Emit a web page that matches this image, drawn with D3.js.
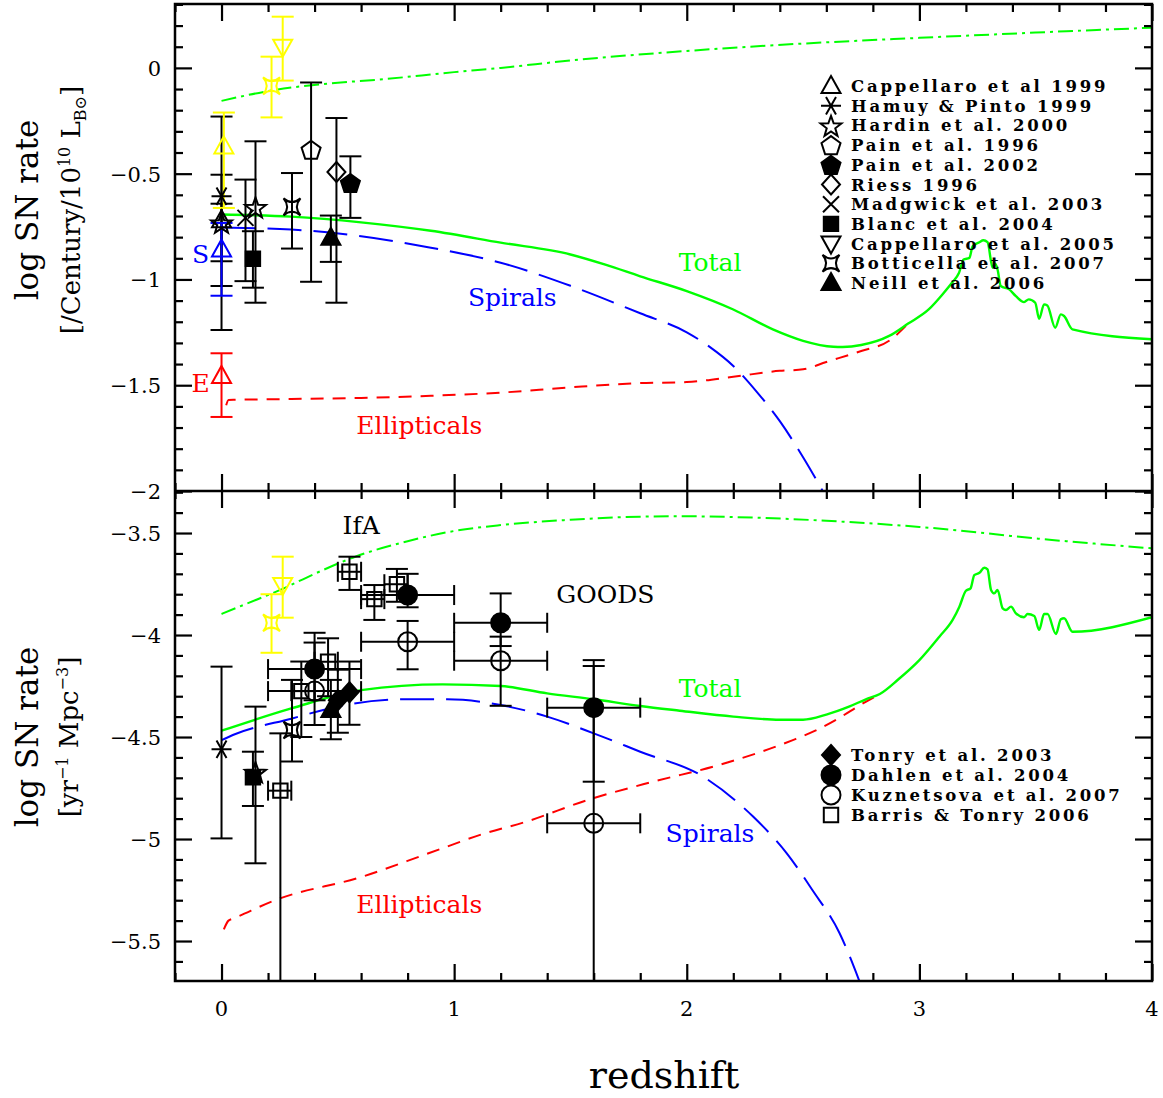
<!DOCTYPE html>
<html>
<head>
<meta charset="utf-8">
<script src="https://cdn.jsdelivr.net/npm/d3@7"></script>
<style>
  body { margin: 0; background: #fff; }
  text { font-family: "DejaVu Serif", serif; }
</style>
</head>
<body>
<div id="chart"></div>
<script>
// ---- model curves, upper panel: log rate per century per 10^10 L_B ----
const topUpper = [[0,-0.156],[0.23,-0.104],[0.5,-0.07],[0.66,-0.057],[1.0,-0.02],[1.2,0.0],[1.5,0.035],[2.0,0.08],[2.5,0.115],[3.0,0.142],[3.5,0.167],[4.0,0.19]];
const topTotal = [[0,-0.693],[0.3,-0.703],[0.6,-0.73],[0.9,-0.77],[1.2,-0.826],[1.5,-0.882],[1.65,-0.93],[1.8,-0.985],[2.0,-1.055],[2.2,-1.142],[2.37,-1.236],[2.5,-1.29],[2.63,-1.318],[2.67,-1.319],[2.75,-1.31],[2.87,-1.267],[2.95,-1.21],[3.04,-1.142],[3.1,-1.07],[3.14,-1.016],[3.17,-0.97],[3.19,-0.906],[3.215,-0.898],[3.229,-0.843],[3.258,-0.824],[3.275,-0.815],[3.293,-0.824],[3.315,-0.945],[3.326,-0.925],[3.336,-0.953],[3.35,-1.031],[3.386,-1.047],[3.415,-1.079],[3.45,-1.107],[3.47,-1.094],[3.498,-1.11],[3.515,-1.186],[3.536,-1.118],[3.55,-1.123],[3.584,-1.228],[3.608,-1.165],[3.622,-1.173],[3.658,-1.236],[4.0,-1.283]];
const topSpirals = [[0,-0.755],[0.3,-0.764],[0.6,-0.796],[0.9,-0.85],[1.2,-0.921],[1.5,-1.03],[1.8,-1.16],[2.0,-1.25],[2.1,-1.32],[2.2,-1.409],[2.3,-1.53],[2.4,-1.67],[2.5,-1.84],[2.6,-2.03]];
const topEllipticals = [[0.02,-1.595],[0.03,-1.57],[0.06,-1.569],[0.3,-1.565],[0.6,-1.56],[0.9,-1.55],[1.2,-1.535],[1.5,-1.51],[1.8,-1.49],[2.0,-1.485],[2.2,-1.46],[2.4,-1.432],[2.5,-1.425],[2.6,-1.39],[2.75,-1.338],[2.87,-1.29],[2.95,-1.21]];

// ---- model curves, lower panel: log rate per yr per Mpc^3 ----
const botUpper = [[0,-3.897],[0.1,-3.85],[0.25,-3.78],[0.4,-3.70],[0.575,-3.616],[0.8,-3.54],[1.0,-3.49],[1.2,-3.461],[1.5,-3.435],[1.8,-3.42],[2.0,-3.418],[2.3,-3.425],[2.6,-3.44],[3.0,-3.47],[3.57,-3.534],[4.0,-3.575]];
const botTotal = [[0,-4.469],[0.3,-4.36],[0.6,-4.27],[0.95,-4.242],[1.2,-4.25],[1.4,-4.286],[1.6,-4.315],[1.8,-4.348],[1.97,-4.371],[2.2,-4.40],[2.4,-4.415],[2.5,-4.415],[2.6,-4.39],[2.7,-4.35],[2.77,-4.315],[2.83,-4.289],[2.91,-4.217],[3.0,-4.123],[3.086,-4.008],[3.143,-3.926],[3.172,-3.861],[3.2,-3.783],[3.22,-3.771],[3.236,-3.706],[3.258,-3.695],[3.279,-3.67],[3.293,-3.678],[3.308,-3.779],[3.322,-3.796],[3.336,-3.779],[3.358,-3.869],[3.372,-3.877],[3.394,-3.861],[3.415,-3.894],[3.45,-3.913],[3.465,-3.897],[3.494,-3.907],[3.515,-3.975],[3.536,-3.897],[3.551,-3.897],[3.587,-3.995],[3.608,-3.923],[3.622,-3.918],[3.658,-3.984],[4.0,-3.913]];
const botSpirals = [[0,-4.515],[0.06,-4.485],[0.3,-4.41],[0.53,-4.343],[0.8,-4.315],[0.97,-4.315],[1.2,-4.343],[1.4,-4.40],[1.6,-4.482],[1.8,-4.572],[2.07,-4.694],[2.285,-4.89],[2.43,-5.07],[2.54,-5.25],[2.657,-5.462],[2.74,-5.69],[2.76,-5.75]];
const botEllipticals = [[0.01,-5.443],[0.03,-5.40],[0.053,-5.389],[0.23,-5.30],[0.604,-5.185],[0.89,-5.07],[1.133,-4.972],[1.31,-4.915],[1.57,-4.81],[1.855,-4.719],[2.14,-4.637],[2.456,-4.515],[2.55,-4.47],[2.65,-4.41],[2.75,-4.34],[2.83,-4.289]];

// ---- measurements (sample: "all" = total, "S"/"E" = by host type, "alt" = second estimate) ----
const topPoints = [
  { ref: "Hamuy & Pinto 1999",      sample: "all", z: 0.0,   v: -0.607, lo: -1.239, hi: -0.23 },
  { ref: "Cappellaro et al 1999",   sample: "all", z: 0.0,   v: -0.72,  lo: -0.914, hi: -0.505 },
  { ref: "Hardin et al. 2000",      sample: "all", z: 0.0,   v: -0.73,  lo: -1.031, hi: -0.642 },
  { ref: "Cappellaro et al 1999",   sample: "alt", z: 0.01,  v: -0.371, lo: -0.662, hi: -0.211 },
  { ref: "Cappellaro et al 1999",   sample: "S",   z: 0.0,   v: -0.858, lo: -1.077, hi: -0.733 },
  { ref: "Cappellaro et al 1999",   sample: "E",   z: 0.0,   v: -1.456, lo: -1.65,  hi: -1.349 },
  { ref: "Madgwick et al. 2003",    sample: "all", z: 0.103, v: -0.709, lo: -1.008, hi: -0.528 },
  { ref: "Blanc et al. 2004",       sample: "all", z: 0.135, v: -0.902, lo: -1.039, hi: -0.772 },
  { ref: "Hardin et al. 2000",      sample: "all", z: 0.146, v: -0.657, lo: -1.11,  hi: -0.347 },
  { ref: "Botticella et al. 2007",  sample: "alt", z: 0.215, v: -0.085, lo: -0.234, hi: 0.053 },
  { ref: "Cappellaro et al. 2005",  sample: "alt", z: 0.263, v: 0.10,   lo: -0.06,  hi: 0.242 },
  { ref: "Botticella et al. 2007",  sample: "all", z: 0.303, v: -0.657, lo: -0.854, hi: -0.497 },
  { ref: "Pain et al. 1996",        sample: "all", z: 0.385, v: -0.387, lo: -1.011, hi: -0.069 },
  { ref: "Neill et al. 2006",       sample: "all", z: 0.47,  v: -0.803, lo: -0.917, hi: -0.698 },
  { ref: "Riess 1996",              sample: "all", z: 0.494, v: -0.492, lo: -1.11,  hi: -0.237 },
  { ref: "Pain et al. 2002",        sample: "all", z: 0.554, v: -0.544, lo: -0.709, hi: -0.418 }
];
const botPoints = [
  { ref: "Cappellaro et al. 2005",  sample: "alt", z: 0.263, v: -3.755, lo: -3.915, hi: -3.616 },
  { ref: "Botticella et al. 2007",  sample: "alt", z: 0.215, v: -3.94,  lo: -4.087, hi: -3.80 },
  { ref: "Hamuy & Pinto 1999",      sample: "all", z: 0.0,   v: -4.56,  lo: -4.997, hi: -4.155 },
  { ref: "Hardin et al. 2000",      sample: "all", z: 0.146, v: -4.67,  lo: -5.119, hi: -4.351 },
  { ref: "Blanc et al. 2004",       sample: "all", z: 0.135, v: -4.698, lo: -4.838, hi: -4.572 },
  { ref: "Barris & Tonry 2006",     sample: "all", z: 0.253, v: -4.763, lo: -6.5,   hi: -4.482, zlo: 0.2, zhi: 0.3 },
  { ref: "Botticella et al. 2007",  sample: "all", z: 0.303, v: -4.466, lo: -4.62,  hi: -4.22 },
  { ref: "Barris & Tonry 2006",     sample: "all", z: 0.343, v: -4.275, lo: -4.50,  hi: -4.13, zlo: 0.3, zhi: 0.4 },
  { ref: "Dahlen et al. 2004",      sample: "all", z: 0.4,   v: -4.167, lo: -4.32,  hi: -3.989, zlo: 0.2, zhi: 0.6 },
  { ref: "Kuznetsova et al. 2007",  sample: "all", z: 0.4,   v: -4.275, lo: -4.441, hi: -4.037, zlo: 0.2, zhi: 0.6 },
  { ref: "Barris & Tonry 2006",     sample: "all", z: 0.458, v: -4.131, lo: -4.30,  hi: -4.016, zlo: 0.4, zhi: 0.5 },
  { ref: "Neill et al. 2006",       sample: "all", z: 0.47,  v: -4.368, lo: -4.511, hi: -4.22 },
  { ref: "Tonry et al. 2003",       sample: "all", z: 0.5,   v: -4.32,  lo: -4.479, hi: -4.17 },
  { ref: "Tonry et al. 2003",       sample: "all", z: 0.55,  v: -4.28,  lo: -4.44,  hi: -4.13 },
  { ref: "Barris & Tonry 2006",     sample: "all", z: 0.55,  v: -3.69,  lo: -3.779, hi: -3.616, zlo: 0.5, zhi: 0.6 },
  { ref: "Barris & Tonry 2006",     sample: "all", z: 0.657, v: -3.824, lo: -3.926, hi: -3.755, zlo: 0.6, zhi: 0.7 },
  { ref: "Barris & Tonry 2006",     sample: "all", z: 0.754, v: -3.751, lo: -3.837, hi: -3.676, zlo: 0.7, zhi: 0.8 },
  { ref: "Dahlen et al. 2004",      sample: "all", z: 0.8,   v: -3.804, lo: -3.864, hi: -3.70,  zlo: 0.6, zhi: 1.0 },
  { ref: "Kuznetsova et al. 2007",  sample: "all", z: 0.8,   v: -4.033, lo: -4.168, hi: -3.931, zlo: 0.6, zhi: 1.0 },
  { ref: "Dahlen et al. 2004",      sample: "all", z: 1.2,   v: -3.94,  lo: -4.054, hi: -3.796, zlo: 1.0, zhi: 1.4 },
  { ref: "Kuznetsova et al. 2007",  sample: "all", z: 1.2,   v: -4.126, lo: -4.347, hi: -4.008, zlo: 1.0, zhi: 1.4 },
  { ref: "Dahlen et al. 2004",      sample: "all", z: 1.6,   v: -4.356, lo: -4.719, hi: -4.123, zlo: 1.4, zhi: 1.8 },
  { ref: "Kuznetsova et al. 2007",  sample: "all", z: 1.6,   v: -4.923, lo: -6.5,   hi: -4.152, zlo: 1.4, zhi: 1.8 }
];

const topLegend = ["Cappellaro et al 1999", "Hamuy & Pinto 1999", "Hardin et al. 2000", "Pain et al. 1996", "Pain et al. 2002", "Riess 1996", "Madgwick et al. 2003", "Blanc et al. 2004", "Cappellaro et al. 2005", "Botticella et al. 2007", "Neill et al. 2006"];
const botLegend = ["Tonry et al. 2003", "Dahlen et al. 2004", "Kuznetsova et al. 2007", "Barris & Tonry 2006"];

const xTicks = [0, 1, 2, 3, 4];
const topTicks = [0, -0.5, -1, -1.5, -2];
const botTicks = [-3.5, -4, -4.5, -5, -5.5];

// ---- styling ----
const refSymbol = {
  "Cappellaro et al 1999": ["triUp", false],
  "Hamuy & Pinto 1999": ["ast", false],
  "Hardin et al. 2000": ["star5", false],
  "Pain et al. 1996": ["pent", false],
  "Pain et al. 2002": ["pent", true],
  "Riess 1996": ["diamond", false],
  "Madgwick et al. 2003": ["x", false],
  "Blanc et al. 2004": ["square", true],
  "Cappellaro et al. 2005": ["triDown", false],
  "Botticella et al. 2007": ["star4", false],
  "Neill et al. 2006": ["triUp", true],
  "Tonry et al. 2003": ["diamond", true],
  "Dahlen et al. 2004": ["circle", true],
  "Kuznetsova et al. 2007": ["circle", false],
  "Barris & Tonry 2006": ["square", false]
};
const sampleColor = { all: "#000", alt: "#ffff00", S: "#0000ff", E: "#ff0000" };
const GREEN = "#00ff00", BLUE = "#0000ff", RED = "#ff0000";

function symPath(name, s) {
  const poly = pts => "M" + pts.map(p => p[0].toFixed(2) + "," + p[1].toFixed(2)).join("L") + "Z";
  switch (name) {
    case "triUp": return poly([[0, -s], [s * 0.95, s * 0.7], [-s * 0.95, s * 0.7]]);
    case "triDown": return poly([[0, s], [s * 0.95, -s * 0.7], [-s * 0.95, -s * 0.7]]);
    case "diamond": return poly([[0, -s], [s * 0.9, 0], [0, s], [-s * 0.9, 0]]);
    case "square": { const h = s * 0.72; return poly([[-h, -h], [h, -h], [h, h], [-h, h]]); }
    case "pent": return poly(d3.range(5).map(i => { const a = -Math.PI / 2 + i * 2 * Math.PI / 5; return [s * Math.cos(a), s * Math.sin(a) + 1]; }));
    case "star5": return poly(d3.range(10).map(i => { const a = -Math.PI / 2 + i * Math.PI / 5, r = i % 2 ? s * 0.45 : s * 1.1; return [r * Math.cos(a), r * Math.sin(a) + 1.5]; }));
    case "star4": { const c = s * 0.85, q = s * 0.12;
      return `M${-c},${-c}Q0,${-q} ${c},${-c}Q${q},0 ${c},${c}Q0,${q} ${-c},${c}Q${-q},0 ${-c},${-c}Z`; }
    case "circle": return `M${s * 0.95},0A${s * 0.95},${s * 0.95} 0 1,1 ${-s * 0.95},0A${s * 0.95},${s * 0.95} 0 1,1 ${s * 0.95},0Z`;
    case "x": { const h = s * 0.8; return `M${-h},${-h}L${h},${h}M${-h},${h}L${h},${-h}`; }
    case "ast": { const h = s, a = s * 0.5, b = s * 0.87;
      return `M${-h},0L${h},0M${-a},${-b}L${a},${b}M${-a},${b}L${a},${-b}`; }
  }
}

// ---- layout ----
const W = 1163, H = 1098;
const X0 = 175, X1 = 1152, Y0 = 4, YM = 491, Y1 = 981;

const x = d3.scaleLinear().domain([-0.2, 4]).range([X0, X1]);
const yTop = d3.scaleLinear().domain([-2, 0.302]).range([YM, Y0]);
const yBot = d3.scaleLinear().domain([-5.696, -3.294]).range([Y1, YM]);

const svg = d3.select("#chart").append("svg")
  .attr("width", W).attr("height", H)
  .attr("viewBox", `0 0 ${W} ${H}`);

const defs = svg.append("defs");
defs.append("clipPath").attr("id", "clipTop").append("rect")
  .attr("x", X0).attr("y", Y0).attr("width", X1 - X0).attr("height", YM - Y0);
defs.append("clipPath").attr("id", "clipBot").append("rect")
  .attr("x", X0).attr("y", YM).attr("width", X1 - X0).attr("height", Y1 - YM);

function drawPanel(y, clipId, curves, points) {
  const g = svg.append("g").attr("clip-path", `url(#${clipId})`);
  const line = d3.line().x(d => x(d[0])).y(d => y(d[1])).curve(d3.curveMonotoneX);

  curves.forEach(c => {
    g.append("path").datum(c.data)
      .attr("d", line)
      .attr("fill", "none")
      .attr("stroke", c.color)
      .attr("stroke-width", c.dash ? 2 : 2.4)
      .attr("stroke-dasharray", c.dash || null);
  });

  const pg = g.append("g");
  points.forEach(p => {
    const col = sampleColor[p.sample];
    const cx = x(p.z), cy = y(p.v);
    const cap = 11;
    // vertical error bar
    pg.append("line").attr("x1", cx).attr("x2", cx).attr("y1", y(p.lo)).attr("y2", y(p.hi))
      .attr("stroke", col).attr("stroke-width", 2);
    [p.lo, p.hi].forEach(e => {
      pg.append("line").attr("x1", cx - cap).attr("x2", cx + cap).attr("y1", y(e)).attr("y2", y(e))
        .attr("stroke", col).attr("stroke-width", 2);
    });
    // redshift bin
    if (p.zlo != null) {
      pg.append("line").attr("x1", x(p.zlo)).attr("x2", x(p.zhi)).attr("y1", cy).attr("y2", cy)
        .attr("stroke", col).attr("stroke-width", 2);
      [p.zlo, p.zhi].forEach(e => {
        pg.append("line").attr("x1", x(e)).attr("x2", x(e)).attr("y1", cy - 10).attr("y2", cy + 10)
          .attr("stroke", col).attr("stroke-width", 2);
      });
    }
  });
  points.forEach(p => {
    const col = sampleColor[p.sample];
    const [shape, filled] = refSymbol[p.ref];
    pg.append("path")
      .attr("transform", `translate(${x(p.z)},${y(p.v)})`)
      .attr("d", symPath(shape, 10))
      .attr("fill", filled ? col : "none")
      .attr("stroke", col)
      .attr("stroke-width", 2);
  });
}

drawPanel(yTop, "clipTop", [
  { data: topUpper, color: GREEN, dash: "15,5,3,5" },
  { data: topEllipticals, color: RED, dash: "13,9" },
  { data: topSpirals, color: BLUE, dash: "34,12" },
  { data: topTotal, color: GREEN }
], topPoints);

drawPanel(yBot, "clipBot", [
  { data: botUpper, color: GREEN, dash: "15,5,3,5" },
  { data: botEllipticals, color: RED, dash: "13,9" },
  { data: botSpirals, color: BLUE, dash: "34,12" },
  { data: botTotal, color: GREEN }
], botPoints);

// ---- frame and ticks ----
const axes = svg.append("g");
function tickSet(scale, axisFn, vals, size, transform) {
  axes.append("g").attr("transform", transform)
    .call(axisFn(scale).tickValues(vals).tickSize(size).tickFormat(""))
    .call(g => g.select(".domain").remove())
    .call(g => g.selectAll("line").attr("stroke", "#000").attr("stroke-width", 2.2));
}
const xMajor = d3.range(0, 4.01, 1);
const xMinor = d3.range(-0.2, 4.01, 0.2).map(v => +v.toFixed(2)).filter(v => Math.abs(v - Math.round(v)) > 1e-6);
[[Y0, d3.axisBottom], [YM, d3.axisTop], [YM, d3.axisBottom], [Y1, d3.axisTop]].forEach(([yy, fn]) => {
  tickSet(x, fn, xMajor, 17, `translate(0,${yy})`);
  tickSet(x, fn, xMinor, 8, `translate(0,${yy})`);
});
function yTickSets(scale, lo, hi) {
  const all = d3.range(Math.ceil(lo * 10), Math.floor(hi * 10) + 1).map(v => v / 10);
  const major = all.filter(v => Math.abs(v * 2 - Math.round(v * 2)) < 1e-6);
  const minor = all.filter(v => Math.abs(v * 2 - Math.round(v * 2)) > 1e-6);
  [[X0, d3.axisRight], [X1, d3.axisLeft]].forEach(([xx, fn]) => {
    tickSet(scale, fn, major, 17, `translate(${xx},0)`);
    tickSet(scale, fn, minor, 8, `translate(${xx},0)`);
  });
}
yTickSets(yTop, -2, 0.302);
yTickSets(yBot, -5.696, -3.294);

axes.append("rect").attr("x", X0).attr("y", Y0).attr("width", X1 - X0).attr("height", Y1 - Y0)
  .attr("fill", "none").attr("stroke", "#000").attr("stroke-width", 2.5);
axes.append("line").attr("x1", X0).attr("x2", X1).attr("y1", YM).attr("y2", YM)
  .attr("stroke", "#000").attr("stroke-width", 2.5);

// ---- tick labels ----
const fmt = v => (v < 0 ? "\u2212" : "") + Math.abs(v);
const lab = svg.append("g").style("font-family", "'Liberation Sans', sans-serif").attr("font-size", 21).attr("fill", "#000");
xTicks.forEach(v => lab.append("text").attr("x", x(v)).attr("y", 1016).attr("text-anchor", "middle").text(v));
topTicks.forEach(v => lab.append("text").attr("x", 161).attr("y", yTop(v) + 8).attr("text-anchor", "end").text(fmt(v)));
botTicks.forEach(v => lab.append("text").attr("x", 161).attr("y", yBot(v) + 8).attr("text-anchor", "end").text(fmt(v)));

// ---- axis titles ----
svg.append("text").attr("x", 664).attr("y", 1088).attr("text-anchor", "middle").attr("font-size", 38).text("redshift");

const t1 = svg.append("g").attr("transform", "translate(38,210) rotate(-90)");
t1.append("text").attr("text-anchor", "middle").attr("font-size", 31).text("log SN rate");
const t1b = t1.append("text").attr("y", 42).attr("text-anchor", "middle").attr("font-size", 26);
t1b.append("tspan").text("[/Century/10");
t1b.append("tspan").attr("font-size", 16).attr("dy", -10).text("10");
t1b.append("tspan").attr("dy", 10).text(" L");
t1b.append("tspan").attr("font-size", 16).attr("dy", 6).text("B\u2299");
t1b.append("tspan").attr("dy", -6).text("]");

const t2 = svg.append("g").attr("transform", "translate(38,737) rotate(-90)");
t2.append("text").attr("text-anchor", "middle").attr("font-size", 31).text("log SN rate");
const t2b = t2.append("text").attr("y", 40).attr("text-anchor", "middle").attr("font-size", 26);
t2b.append("tspan").text("[yr");
t2b.append("tspan").attr("font-size", 16).attr("dy", -10).text("\u22121");
t2b.append("tspan").attr("dy", 10).text(" Mpc");
t2b.append("tspan").attr("font-size", 16).attr("dy", -10).text("\u22123");
t2b.append("tspan").attr("dy", 10).text("]");

// ---- curve annotations ----
const notes = [
  { t: "Total", c: GREEN, z: 2.1, v: -0.92, y: yTop },
  { t: "Spirals", c: BLUE, z: 1.25, v: -1.085, y: yTop },
  { t: "Ellipticals", c: RED, z: 0.85, v: -1.69, y: yTop },
  { t: "S", c: BLUE, z: -0.09, v: -0.88, y: yTop },
  { t: "E", c: RED, z: -0.09, v: -1.49, y: yTop },
  { t: "IfA", c: "#000", z: 0.6, v: -3.46, y: yBot },
  { t: "GOODS", c: "#000", z: 1.65, v: -3.8, y: yBot },
  { t: "Total", c: GREEN, z: 2.1, v: -4.26, y: yBot },
  { t: "Spirals", c: BLUE, z: 2.1, v: -4.97, y: yBot },
  { t: "Ellipticals", c: RED, z: 0.85, v: -5.32, y: yBot }
];
notes.forEach(n => svg.append("text")
  .attr("x", x(n.z)).attr("y", n.y(n.v)).attr("text-anchor", "middle").attr("dy", "0.35em")
  .attr("font-size", 25).attr("fill", n.c).text(n.t));

// ---- legends ----
function legend(refs, y0, step) {
  const g = svg.append("g");
  refs.forEach((r, i) => {
    const [shape, filled] = refSymbol[r];
    const yy = y0 + i * step;
    g.append("path").attr("transform", `translate(831,${yy})`).attr("d", symPath(shape, 10))
      .attr("fill", filled ? "#000" : "#fff").attr("stroke", "#000").attr("stroke-width", 2);
    g.append("text").attr("x", 851).attr("y", yy + 6).attr("font-size", 16.5)
      .attr("letter-spacing", 2.8).attr("font-weight", 600).text(r);
  });
}
legend(topLegend, 86, 19.7);
legend(botLegend, 755, 20);
</script>
</body>
</html>
